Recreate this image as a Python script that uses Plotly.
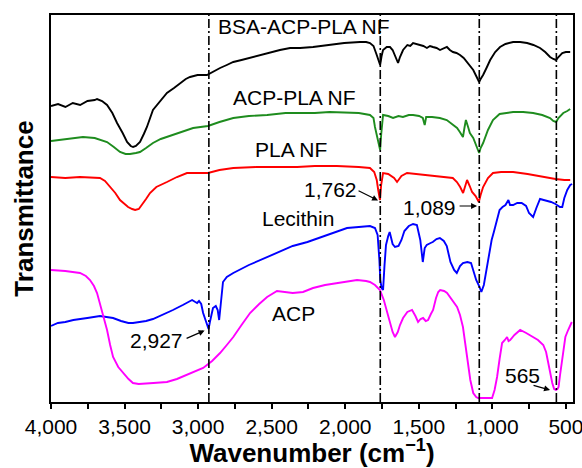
import plotly.graph_objects as go

# ---------------- data (transmittance in arbitrary offset units) ----------------
bsa_wn = [4000, 3952, 3902, 3852, 3802, 3752, 3703, 3687, 3653, 3619, 3583, 3551, 3513, 3483, 3458, 3442,
          3423, 3395, 3369, 3348, 3307, 3254, 3212, 3164, 3123, 3084, 3055, 3004, 2940, 2905, 2851, 2805,
          2761, 2705, 2626, 2556, 2489, 2444, 2375, 2307, 2219, 2107, 2007, 1900, 1858, 1832, 1808, 1786,
          1772, 1763, 1753, 1743, 1718, 1696, 1678, 1662, 1648, 1641, 1628, 1607, 1578, 1558, 1539, 1509,
          1493, 1469, 1445, 1424, 1404, 1379, 1356, 1329, 1309, 1289, 1268, 1244, 1220, 1195, 1170, 1150,
          1130, 1110, 1090, 1080, 1063, 1040, 1015, 981, 948, 911, 859, 811, 764, 721, 676, 641, 608, 586,
          567, 551, 525, 501, 471]
bsa_t = [296, 298, 295, 299, 297, 301, 302, 303, 301, 297, 289, 279, 269, 260, 256, 255,
         256, 260, 268, 275, 292, 302, 309, 314, 319, 323, 325, 327, 327, 330, 334, 337,
         340, 342, 345, 348, 350, 352, 354, 354, 355, 357, 359, 360, 360, 359, 356, 347,
         342, 337, 346, 352, 355, 355, 352, 347, 342, 339, 345, 352, 357, 356, 359, 358,
         357, 356, 354, 356, 355, 354, 352, 354, 355, 352, 350, 349, 347, 344, 339, 336,
         332, 326, 320, 323, 327, 334, 342, 350, 355, 358, 360, 360, 359, 357, 354, 350, 345, 343,
         342, 345, 349, 350, 350]

acp_pla_wn = [4000, 3902, 3783, 3703, 3653, 3619, 3573, 3531, 3493, 3463, 3423, 3395, 3354, 3307, 3254, 3171,
              3104, 3034, 2933, 2855, 2761, 2655, 2531, 2406, 2327, 2207, 2107, 1988, 1908, 1832, 1808, 1798,
              1783, 1763, 1756, 1743, 1708, 1675, 1638, 1608, 1568, 1539, 1498, 1473, 1460, 1450, 1410, 1357,
              1310, 1269, 1240, 1221, 1200, 1190, 1180, 1165, 1153, 1130, 1110, 1090, 1080, 1063, 1030, 996,
              951, 859, 791, 723, 661, 608, 586, 567, 551, 518, 491, 471]
acp_pla_t = [261, 263, 265, 264, 262, 260, 255, 250, 248, 248, 249, 250, 254, 259, 263, 267,
             271, 274, 276, 280, 284, 286, 287, 289, 289, 289, 290, 289, 289, 287, 284, 275,
             264, 252, 267, 287, 286, 284, 286, 285, 287, 287, 286, 284, 277, 285, 285, 284,
             282, 277, 274, 270, 265, 274, 282, 275, 269, 264, 257, 249, 254, 259, 272, 282,
             288, 290, 290, 289, 287, 284, 281, 280, 284, 289, 291, 293]

pla_wn = [4000, 3903, 3803, 3703, 3667, 3633, 3599, 3563, 3531, 3503, 3476, 3448, 3428, 3403, 3382, 3354,
          3327, 3284, 3212, 3144, 3076, 3004, 2933, 2855, 2761, 2605, 2456, 2327, 2207, 2057, 1908, 1832,
          1803, 1786, 1776, 1764, 1756, 1743, 1708, 1668, 1648, 1618, 1580, 1508, 1444, 1389, 1309, 1269,
          1241, 1219, 1199, 1184, 1172, 1154, 1138, 1114, 1092, 1080, 1063, 1030, 996, 941, 859, 761,
          691, 631, 571, 511, 471]
pla_t = [225, 224, 225, 224, 224, 221, 215, 209, 202, 198, 195, 193, 192, 193, 197, 203,
         209, 215, 220, 225, 229, 229, 229, 232, 234, 235, 235, 235, 236, 236, 235, 234,
         230, 222, 212, 202, 217, 229, 228, 224, 220, 226, 229, 228, 227, 226, 225, 224,
         220, 215, 209, 217, 222, 216, 210, 206, 200, 207, 215, 224, 229, 230, 230, 228,
         226, 225, 223, 222, 222]

lec_wn = [4000, 3953, 3903, 3848, 3753, 3667, 3623, 3578, 3524, 3474, 3443, 3404, 3354, 3307, 3244, 3171,
          3104, 3054, 3041, 3019, 3007, 2994, 2979, 2966, 2949, 2929, 2920, 2899, 2880, 2867, 2857, 2845,
          2831, 2805, 2761, 2655, 2531, 2444, 2357, 2257, 2157, 2081, 1988, 1908, 1832, 1798, 1780, 1768,
          1762, 1753, 1743, 1733, 1723, 1708, 1698, 1678, 1662, 1638, 1618, 1598, 1568, 1539, 1513, 1490,
          1473, 1460, 1446, 1420, 1405, 1380, 1357, 1330, 1310, 1285, 1260, 1242, 1220, 1200, 1170, 1145,
          1130, 1110, 1090, 1075, 1058, 1040, 1020, 1005, 990, 971, 951, 931, 911, 891, 880, 859,
          831, 801, 771, 751, 723, 701, 676, 651, 626, 601, 571, 541, 525, 511, 491, 471, 458]
lec_t = [76, 79, 80, 82, 84, 86, 85, 84, 81, 79, 79, 80, 81, 83, 87, 92,
         97, 101, 102, 100, 99, 101, 98, 89, 82, 73, 80, 94, 96, 92, 82, 102,
         120, 125, 129, 137, 145, 151, 156, 160, 165, 169, 174, 175, 176, 174, 167, 142,
         122, 114, 112, 137, 157, 166, 170, 158, 155, 156, 162, 171, 176, 178, 177, 162,
         140, 154, 157, 159, 160, 163, 164, 161, 156, 140, 132, 129, 136, 139, 140, 139,
         132, 122, 116, 110, 117, 132, 147, 162, 170, 182, 192, 195, 197, 202, 197, 197,
         199, 199, 196, 189, 185, 194, 203, 202, 201, 200, 198, 195, 195, 204, 212, 217, 218]

acp_wn = [4000, 3903, 3803, 3763, 3735, 3708, 3687, 3668, 3646, 3619, 3598, 3578, 3543, 3510, 3473, 3443,
          3404, 3304, 3212, 3144, 3076, 3024, 2966, 2905, 2851, 2805, 2761, 2705, 2647, 2585, 2531, 2464,
          2406, 2357, 2287, 2219, 2137, 2057, 1987, 1920, 1858, 1832, 1798, 1764, 1738, 1718, 1698, 1678,
          1662, 1643, 1628, 1607, 1578, 1546, 1523, 1505, 1488, 1471, 1453, 1437, 1418, 1403, 1383, 1368,
          1355, 1328, 1308, 1278, 1240, 1220, 1200, 1185, 1166, 1150, 1130, 1110, 1097, 1050, 1002, 985,
          968, 950, 934, 915, 900, 890, 879, 850, 811, 770, 722, 690, 654, 635, 620, 605,
          593, 580, 568, 558, 550, 540, 524, 504, 485, 471, 460]
acp_t = [132, 131, 129, 126, 122, 116, 109, 99, 85, 72, 57, 45, 35, 29, 23, 19,
         18, 19, 20, 23, 27, 30, 34, 41, 49, 57, 65, 77, 89, 98, 105, 111,
         110, 109, 110, 114, 117, 119, 121, 122, 121, 120, 117, 112, 102, 92, 80, 70,
         65, 70, 77, 84, 90, 92, 86, 80, 83, 84, 81, 82, 88, 92, 104, 110,
         112, 111, 109, 103, 95, 87, 75, 59, 39, 22, 9, 5, 4, 4, 4, 12,
         25, 44, 59, 62, 65, 61, 62, 67, 72, 69, 65, 62, 57, 50, 39, 27,
         19, 13, 12, 13, 15, 27, 45, 65, 72, 77, 80]

peaks = [2927, 1762, 1089, 565]
tick_vals = [4000, 3500, 3000, 2500, 2000, 1500, 1000, 500]
tick_text = ["4,000", "3,500", "3,000", "2,500", "2,000", "1,500", "1,000", "500"]
minor_vals = [3750, 3250, 2750, 2250, 1750, 1250, 750]

FONT = "Liberation Sans, Arial, sans-serif"

series = [
    ("BSA-ACP-PLA NF", bsa_wn, bsa_t, "#000000"),
    ("ACP-PLA NF", acp_pla_wn, acp_pla_t, "#1e8c1e"),
    ("PLA NF", pla_wn, pla_t, "#ff0000"),
    ("Lecithin", lec_wn, lec_t, "#0000ff"),
    ("ACP", acp_wn, acp_t, "#ff00ff"),
]

fig = go.Figure()
for name, wn, t, col in series:
    fig.add_trace(go.Scatter(x=wn, y=t, mode="lines", name=name,
                             line=dict(color=col, width=1.9), showlegend=False))

for p in peaks:
    fig.add_shape(type="line", xref="x", yref="paper", x0=p, x1=p, y0=0, y1=1,
                  line=dict(color="black", width=1.6, dash="9px,3px,2px,3px"))

# curve labels
labels = [
    ("BSA-ACP-PLA NF", 2280, 376),
    ("ACP-PLA NF", 2345, 304.5),
    ("PLA NF", 2368, 253),
    ("Lecithin", 2321, 184),
    ("ACP", 2351, 89),
    ("1,762", 2100, 213),
    ("1,089", 1424, 194.5),
    ("2,927", 3281, 61.5),
    ("565", 795, 26.5),
]
for txt, x, y in labels:
    fig.add_annotation(x=x, y=y, xref="x", yref="y", text=txt, showarrow=False,
                       font=dict(family=FONT, size=21, color="black"),
                       xanchor="center", yanchor="middle")

# arrows (head position in data coords, tail offset in px)
arrows = [
    (1777, 201.5, -21, -10.5),
    (1104, 196, -19, 0),
    (2956, 71.5, -19.5, 8.5),
    (608, 12, -18, -5),
]
for x, y, ax, ay in arrows:
    fig.add_annotation(x=x, y=y, xref="x", yref="y", text="", showarrow=True,
                       ax=ax, ay=ay, axref="pixel", ayref="pixel",
                       arrowhead=2, arrowsize=1, arrowwidth=1.2, arrowcolor="black", standoff=0)

fig.update_layout(
    width=582, height=468,
    margin=dict(l=51, r=9, t=15, b=66),
    paper_bgcolor="white", plot_bgcolor="white",
    font=dict(family=FONT, color="black"),
    xaxis=dict(
        range=[4000, 452], autorange=False,
        tickmode="array", tickvals=tick_vals, ticktext=tick_text,
        ticks="outside", ticklen=5, tickwidth=1.5, tickcolor="black",
        tickfont=dict(family=FONT, size=21, color="black"),
        ticklabeloverflow="allow",
        minor=dict(tickvals=minor_vals, ticks="outside", ticklen=5, tickwidth=1.5, tickcolor="black"),
        showline=True, linecolor="black", linewidth=1.5, mirror=True,
        showgrid=False, zeroline=False, automargin=False,
        title=dict(text="<b>Wavenumber (cm<sup>−1</sup>)</b>", standoff=4,
                   font=dict(family=FONT, size=26, color="black")),
    ),
    yaxis=dict(
        range=[0, 387], autorange=False,
        showticklabels=False, ticks="",
        showline=True, linecolor="black", linewidth=1.5, mirror=True,
        showgrid=False, zeroline=False, automargin=False,
        title=dict(text="<b>Transmittance</b>", standoff=8,
                   font=dict(family=FONT, size=26, color="black")),
    ),
)

fig.write_html("out.html", config={"displayModeBar": False},
               post_script="document.body.style.margin='0px';")
